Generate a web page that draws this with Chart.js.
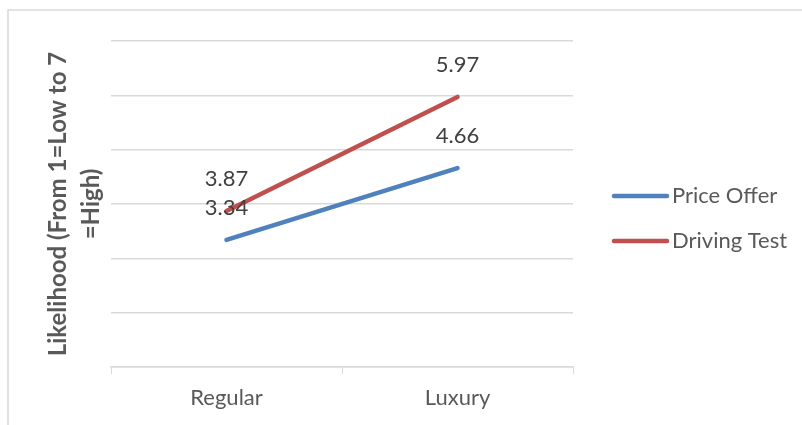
<!DOCTYPE html>
<html>
<head>
<meta charset="utf-8">
<script src="https://cdn.jsdelivr.net/npm/chart.js@4/dist/chart.umd.min.js"></script>
<style>
  html, body { margin: 0; padding: 0; background: #fff; }
  #wrap { position: relative; width: 802px; height: 425px; overflow: hidden; }
</style>
</head>
<body>
<div id="wrap"><canvas id="likelihoodChart" width="802" height="425"></canvas></div>
<script>
// chart data
var categories = ['Regular', 'Luxury'];
var seriesNames = ['Price Offer', 'Driving Test'];
var priceOffer = [3.34, 4.66];
var drivingTest = [3.87, 5.97];
var yTitle = ['Likelihood (From 1=Low to 7', '=High)'];

var textColor = '#595959';
var gridColor = '#d9d9d9';
var fontFamily = 'Lato, "Open Sans", sans-serif';

// outer frame like the office chart border
var framePlugin = {
    id: 'frame',
    beforeDraw: function(chart) {
        var ctx = chart.ctx;
        ctx.save();
        ctx.fillStyle = '#fff';
        ctx.fillRect(0, 0, chart.width, chart.height);
        ctx.strokeStyle = gridColor;
        ctx.lineWidth = 1.5;
        ctx.strokeRect(8, 10, 1000, 1000);
        ctx.restore();
    }
};

// value labels above every point
var valueLabels = {
    id: 'valueLabels',
    afterDatasetsDraw: function(chart) {
        var ctx = chart.ctx;
        ctx.save();
        ctx.font = '22px ' + fontFamily;
        ctx.fillStyle = '#404040';
        ctx.textAlign = 'center';
        ctx.textBaseline = 'middle';
        chart.data.datasets.forEach(function(ds, i) {
            chart.getDatasetMeta(i).data.forEach(function(pt, j) {
                ctx.fillText(ds.data[j].toFixed(2), pt.x, pt.y - 32);
            });
        });
        ctx.restore();
    }
};

// legend on the right
var sideLegend = {
    id: 'sideLegend',
    afterDraw: function(chart) {
        var ctx = chart.ctx;
        ctx.save();
        ctx.font = '22px ' + fontFamily;
        ctx.textBaseline = 'middle';
        ctx.textAlign = 'left';
        chart.data.datasets.forEach(function(ds, i) {
            var y = 196 + i * 45;
            ctx.strokeStyle = ds.borderColor;
            ctx.lineWidth = 4.5;
            ctx.lineCap = 'round';
            ctx.beginPath();
            ctx.moveTo(614, y);
            ctx.lineTo(667, y);
            ctx.stroke();
            ctx.fillStyle = textColor;
            ctx.fillText(ds.label, 672, y);
        });
        ctx.restore();
    }
};

var ctx = document.getElementById('likelihoodChart').getContext('2d');
new Chart(ctx, {
    type: 'line',
    data: {
        labels: categories,
        datasets: [{
            label: seriesNames[0],
            data: priceOffer,
            borderColor: '#4f81bd',
            backgroundColor: '#4f81bd'
        }, {
            label: seriesNames[1],
            data: drivingTest,
            borderColor: '#c0504d',
            backgroundColor: '#c0504d'
        }]
    },
    options: {
        responsive: false,
        animation: false,
        devicePixelRatio: 1,
        layout: { padding: { top: 41, right: 229, left: 0, bottom: 0 } },
        elements: {
            line: { borderWidth: 4.5, borderCapStyle: 'round', tension: 0 },
            point: { radius: 0, hoverRadius: 0 }
        },
        plugins: {
            legend: { display: false },
            tooltip: { enabled: false }
        },
        scales: {
            x: {
                offset: true,
                grid: { drawOnChartArea: false, drawTicks: true, tickLength: 7, color: gridColor, offset: true },
                border: { color: gridColor, width: 1.5 },
                ticks: { color: textColor, font: { family: fontFamily, size: 22 }, padding: 11 },
                afterFit: function(scale) { scale.height = 58; }
            },
            y: {
                min: 1,
                max: 7,
                ticks: { stepSize: 1, display: false },
                grid: { color: gridColor, lineWidth: 1.5, drawTicks: false },
                border: { display: false },
                title: {
                    display: true,
                    text: yTitle,
                    color: textColor,
                    font: { family: fontFamily, size: 24, weight: 'bold', lineHeight: '33px' },
                    padding: { top: 42, bottom: 0 }
                },
                afterFit: function(scale) { scale.width = 111; }
            }
        }
    },
    plugins: [framePlugin, valueLabels, sideLegend]
});
</script>
</body>
</html>
